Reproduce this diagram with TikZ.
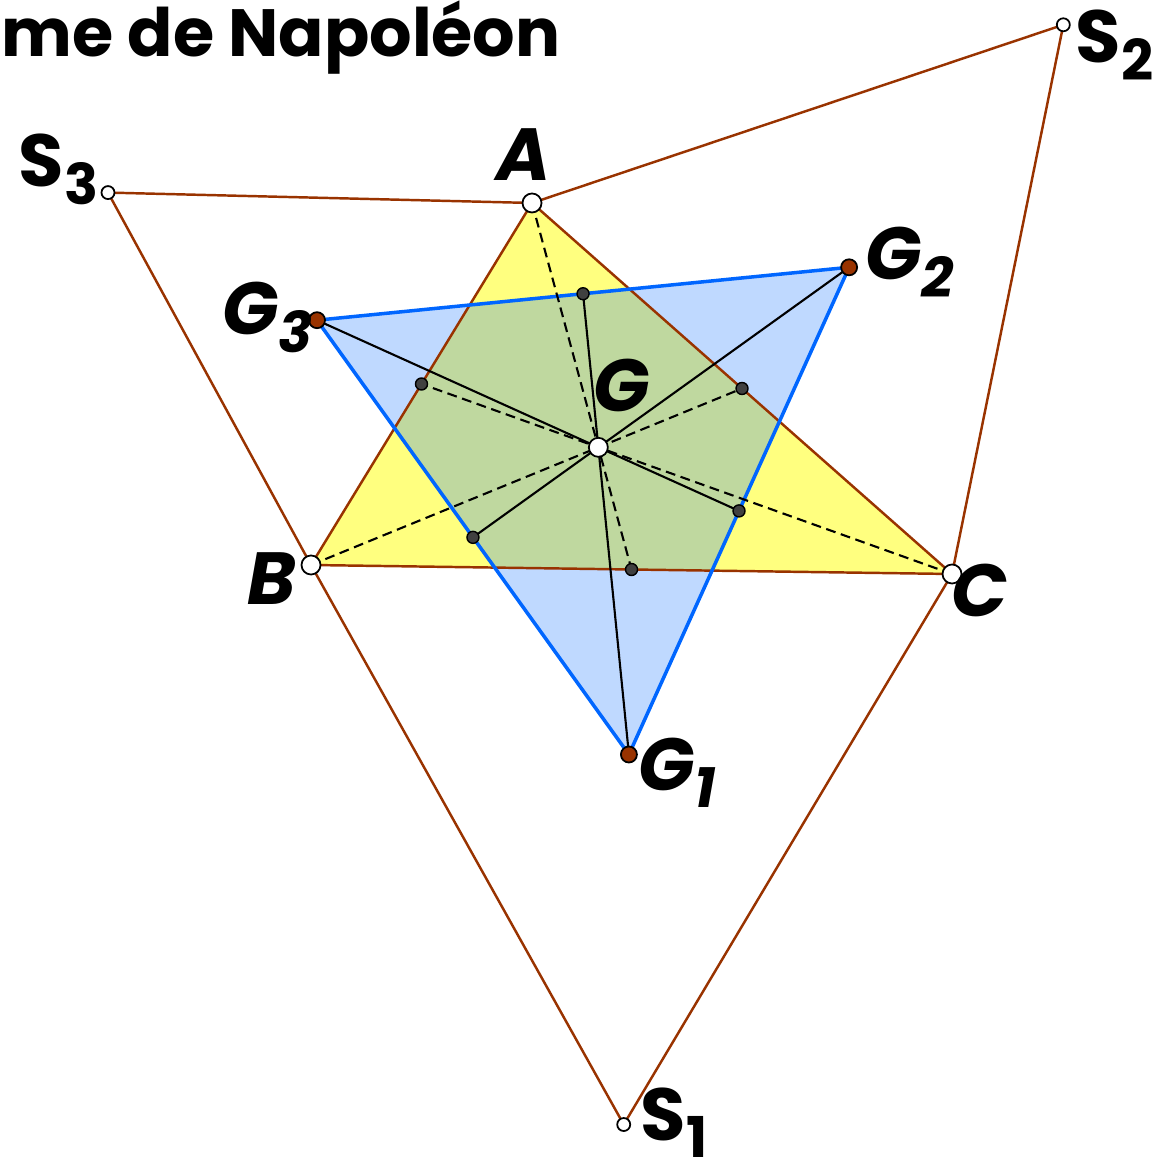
\documentclass[tikz,border=0pt]{standalone}
\usepackage{fontspec}
\setmainfont{Poppins}
\usetikzlibrary{calc}

\definecolor{brun}{RGB}{153,51,0}
\definecolor{bleu}{RGB}{0,102,255}
\definecolor{jaune}{RGB}{255,255,0}
\definecolor{gris}{RGB}{64,64,64}

% indices des noms de points
\newcommand{\indice}[1]{\raisebox{-5pt}{\fontsize{16}{16}\selectfont #1}}

\tikzset{
  cote/.style={brun, line width=0.7pt},
  bord/.style={bleu, line width=1pt},
  mediane/.style={black, line width=0.6pt, dash pattern=on 2.8pt off 1.6pt},
  segment/.style={black, line width=0.6pt},
  sommet/.style={circle, draw=black, fill=white, line width=0.5pt, inner sep=0pt, minimum size=0.19cm},
  pointS/.style={circle, draw=black, fill=white, line width=0.5pt, inner sep=0pt, minimum size=0.13cm},
  centre/.style={circle, draw=black, fill=brun, line width=0.5pt, inner sep=0pt, minimum size=0.16cm},
  milieu/.style={circle, draw=black, fill=gris, line width=0.4pt, inner sep=0pt, minimum size=0.12cm},
  nom/.style={font=\fontsize{21}{21}\selectfont\bfseries\itshape, inner sep=0pt},
  nomS/.style={font=\fontsize{21}{21}\selectfont\bfseries, inner sep=0pt, anchor=base west}
}

\begin{document}
\begin{tikzpicture}[x=0.01cm, y=-0.01cm]
  \useasboundingbox (0,0) rectangle (1153,1174);

  % Triangle ABC et triangles equilateraux exterieurs
  \coordinate (A) at (532,203);
  \coordinate (B) at (311,565);
  \coordinate (C) at (952,574);
  \coordinate (S1) at (623.7,1124.5);
  \coordinate (S2) at (1063.3,24.8);
  \coordinate (S3) at (108,192.6);
  % Centres des triangles equilateraux
  \coordinate (G1) at (628.9,754.5);
  \coordinate (G2) at (849.1,267.3);
  \coordinate (G3) at (317,320.2);
  \coordinate (G) at ($1/3*(A)+1/3*(B)+1/3*(C)$);
  % Milieux
  \coordinate (mBC) at ($(B)!0.5!(C)$);
  \coordinate (mCA) at ($(C)!0.5!(A)$);
  \coordinate (mAB) at ($(A)!0.5!(B)$);
  \coordinate (m23) at ($(G2)!0.5!(G3)$);
  \coordinate (m13) at ($(G1)!0.5!(G3)$);
  \coordinate (m12) at ($(G1)!0.5!(G2)$);

  % Remplissages
  \fill[jaune, fill opacity=0.5] (A) -- (B) -- (C) -- cycle;
  \fill[bleu, fill opacity=0.25] (G1) -- (G2) -- (G3) -- cycle;

  % Cotes
  \draw[cote] (S3) -- (A) -- (S2) -- (C) -- (S1) -- (B) -- cycle;
  \draw[cote] (A) -- (B) -- (C) -- cycle;
  \draw[bord] (G1) -- (G2) -- (G3) -- cycle;

  % Medianes
  \draw[mediane] (A) -- (mBC);
  \draw[mediane] (B) -- (mCA);
  \draw[mediane] (C) -- (mAB);
  \draw[segment] (G1) -- (m23);
  \draw[segment] (G2) -- (m13);
  \draw[segment] (G3) -- (m12);

  % Points
  \foreach \p in {mBC,mCA,mAB,m23,m13,m12}
    \node[milieu] (p\p) at (\p) {};
  \foreach \p in {S1,S2,S3}
    \node[pointS] (p\p) at (\p) {};
  \foreach \p in {G1,G2,G3}
    \node[centre] (p\p) at (\p) {};
  \foreach \p in {A,B,C,G}
    \node[sommet] (p\p) at (\p) {};

  % Noms
  \node[nom] (lA) at (524,155) {A};
  \node[nom] (lB) at (272,579) {B};
  \node[nom] (lC) at (980,590) {C};
  \node[nom] (lG) at (622,385) {G};
  \node[nom, anchor=base west] (lG1) at (638,790) {G\indice{1}};
  \node[nom, anchor=base west] (lG2) at (865,280) {G\indice{2}};
  \node[nom, anchor=base west] (lG3) at (222,335) {G\indice{3}};
  \node[nomS] (lS1) at (640,1140) {S\indice{1}};
  \node[nomS] (lS2) at (1075,63) {S\indice{2}};
  \node[nomS] (lS3) at (18,187) {S\indice{3}};

  % Titre
  \node[nomS, font=\fontsize{19}{19}\selectfont\bfseries] (titre) at (1,57) {me de Napoléon};
\end{tikzpicture}
\end{document}
